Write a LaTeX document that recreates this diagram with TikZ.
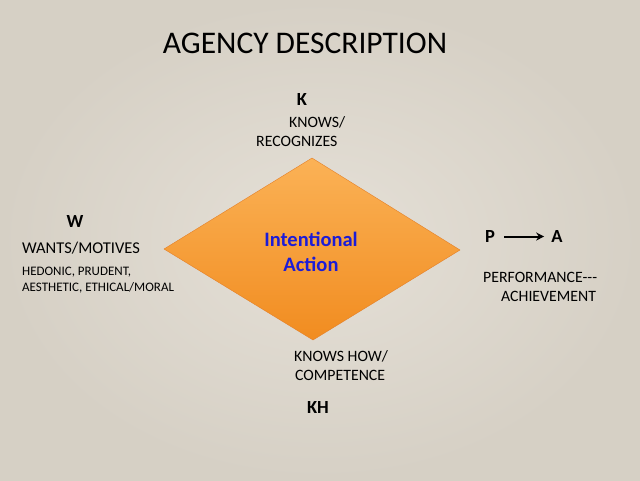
\documentclass[tikz,border=0pt]{standalone}
\usepackage{fontspec}
\setmainfont{Carlito}
\usetikzlibrary{arrows.meta}
\definecolor{bginner}{RGB}{229,224,215}
\definecolor{bgouter}{RGB}{214,208,197}
\definecolor{orangetop}{RGB}{251,178,86}
\definecolor{orangebot}{RGB}{241,140,32}
\definecolor{orangeedge}{RGB}{228,128,40}
\definecolor{actionblue}{RGB}{28,28,215}
\begin{document}
\begin{tikzpicture}[x=1pt, y=-1pt, >={Stealth[length=8pt,width=8pt]},
    letter/.style={font=\fontsize{18.5}{20}\selectfont\bfseries, anchor=base, inner sep=0pt},
    caption/.style={font=\fontsize{15.8}{18}\selectfont, anchor=base west, inner sep=0pt},
    small/.style={font=\fontsize{13}{15}\selectfont, anchor=base west, inner sep=0pt}]
  \shade[inner color=bginner, outer color=bgouter] (0,0) rectangle (640,480);
  \useasboundingbox (0,0) rectangle (640,480);
  % title
  \node[font=\fontsize{31.5}{34}\selectfont, anchor=base, inner sep=0pt] (title) at (305,53) {AGENCY DESCRIPTION};
  % the diamond
  \shade[top color=orangetop, bottom color=orangebot, draw=orangeedge, thin]
    (312,158) -- (460,250) -- (313,340) -- (164,249) -- cycle;
  \node[font=\fontsize{20.5}{25}\selectfont\bfseries, text=actionblue, align=center] (action) at (311,252) {Intentional\\Action};
  % top
  \node[letter] (k) at (302,105) {K};
  \node[caption] (knows) at (289,127) {KNOWS/};
  \node[caption] (recog) at (256,146) {RECOGNIZES};
  % left
  \node[letter] (w) at (75,227) {W};
  \node[caption, font=\fontsize{16.5}{18}\selectfont] (wants) at (22,253) {WANTS/MOTIVES};
  \node[small] (hedonic) at (22,275) {HEDONIC, PRUDENT,};
  \node[small] (ethical) at (22,291) {AESTHETIC, ETHICAL/MORAL};
  % right
  \node[letter] (p) at (490,242) {P};
  \node[letter] (a) at (557,242) {A};
  \draw[->, line width=2pt] ([xshift=9pt,yshift=-0.5pt]p.east) -- ([xshift=-7pt,yshift=-0.5pt]a.west);
  \node[caption] (perf) at (483,282) {PERFORMANCE-{}-{}-};
  \node[caption] (achieve) at (501,301) {ACHIEVEMENT};
  % bottom
  \node[caption] (knowshow) at (294,361) {KNOWS HOW/};
  \node[caption] (compet) at (295,380) {COMPETENCE};
  \node[letter] (kh) at (318,413) {KH};
\end{tikzpicture}
\end{document}
